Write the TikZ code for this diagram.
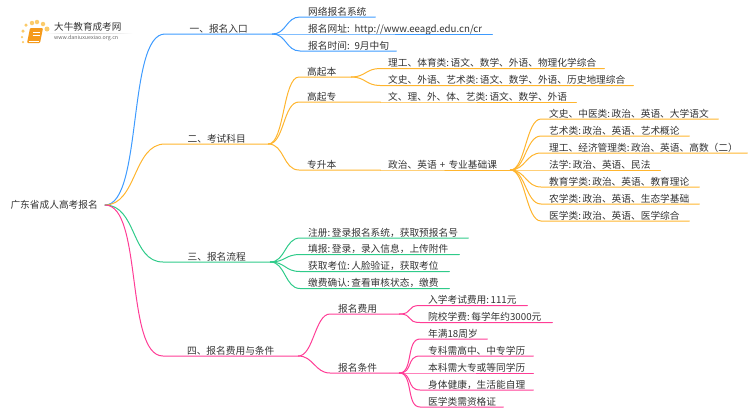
\documentclass[tikz,border=0pt]{standalone}
\usepackage{fontspec}
\setmainfont{Noto Sans CJK SC}
\usepackage{xcolor}
\usetikzlibrary{positioning}

\definecolor{inkgray}{HTML}{333333}
\definecolor{blueline}{HTML}{3E9BFF}
\definecolor{orangeline}{HTML}{FFB52E}
\definecolor{greenline}{HTML}{2FCB8A}
\definecolor{pinkline}{HTML}{FF3D96}
\definecolor{bookorange}{HTML}{F59A1B}
\definecolor{dotyellow}{HTML}{FBCB6A}

\tikzset{
    base/.style={font=\fontsize{9.7pt}{12pt}\selectfont, text=inkgray, anchor=south west,
        inner ysep=1.7pt, text height=8pt, text depth=0pt},
    topic/.style={base, minimum width=#1, inner xsep=0pt, align=center},
    leaf/.style={base, text width=#1, inner xsep=8pt, align=left,
        execute at begin node={\hbox\bgroup}, execute at end node={\egroup}},
    link/.style={line width=1pt, line cap=round},
    fan/.style={out=0, in=180, distance=#1},
    logodot/.style={circle, fill=dotyellow, inner sep=0pt, minimum size=#1}
}

\begin{document}
\begin{tikzpicture}[x=1pt, y=-1pt]
    \useasboundingbox (0,0) rectangle (750,410);

    \node (root) [font=\fontsize{9.7pt}{12pt}\selectfont, text=inkgray, anchor=east, inner xsep=7pt, inner ysep=2pt] at (105,205) {广东省成人高考报名};

    \node (t1) [topic=107] at (165,34) {一、报名入口};
    \node (t2) [topic=103] at (165,144) {二、考试科目};
    \node (t3) [topic=107] at (163,262) {三、报名流程};
    \node (t4) [topic=135] at (163,356) {四、报名费用与条件};

    \node (a1) [leaf=59] at (300,17) {网络报名系统};
    \node (a2) [leaf=176] at (300,34) {报名网址: http://www.eeagd.edu.cn/cr};
    \node (a3) [leaf=80] at (300,51) {报名时间: 9月中旬};

    \node (b1) [leaf=36] at (299,77) {高起本};
    \node (b2) [leaf=65] at (299,102) {高起专};
    \node (b3) [leaf=65] at (299,170) {专升本};

    \node (b11) [leaf=208] at (380,68.5) {理工、体育类:\,语文、数学、外语、物理化学综合};
    \node (b12) [leaf=237] at (380,85.5) {文史、外语、艺术类:\,语文、数学、外语、历史地理综合};
    \node (b21) [leaf=180] at (380,102) {文、理、外、体、艺类:\,语文、数学、外语};
    \node (b31) [leaf=114] at (380,170) {政治、英语 + 专业基础课};

    \node (c1) [leaf=161] at (541,119) {文史、中医类:\,政治、英语、大学语文};
    \node (c2) [leaf=132] at (541,136) {艺术类:\,政治、英语、艺术概论};
    \node (c3) [leaf=190] at (541,153) {理工、经济管理类:\,政治、英语、高数（二）};
    \node (c4) [leaf=103] at (541,170) {法学:\,政治、英语、民法};
    \node (c5) [leaf=142] at (541,187) {教育学类:\,政治、英语、教育理论};
    \node (c6) [leaf=142] at (541,204) {农学类:\,政治、英语、生态学基础};
    \node (c7) [leaf=132] at (541,221) {医学类:\,政治、英语、医学综合};

    \node (d1) [leaf=152] at (300,238) {注册:\,登录报名系统，获取预报名号};
    \node (d2) [leaf=143] at (300,254.5) {填报:\,登录，录入信息，上传附件};
    \node (d3) [leaf=133] at (300,271.5) {获取考位:\,人脸验证，获取考位};
    \node (d4) [leaf=133] at (300,288.5) {缴费确认:\,查看审核状态，缴费};

    \node (e1) [leaf=53] at (330,314) {报名费用};
    \node (e2) [leaf=53] at (330,373) {报名条件};

    \node (e11) [leaf=91] at (420,305.5) {入学考试费用:\,111元};
    \node (e12) [leaf=116] at (420,322.5) {院校学费:\,每学年约3000元};
    \node (e21) [leaf=51] at (420,339) {年满18周岁};
    \node (e22) [leaf=97] at (420,356) {专科需高中、中专学历};
    \node (e23) [leaf=97] at (420,373) {本科需大专或等同学历};
    \node (e24) [leaf=97] at (420,390) {身体健康，生活能自理};
    \node (e25) [leaf=67] at (420,407) {医学类需资格证};

    \draw [link, blueline] (root.east) to[fan=38] (t1.south west) -- (t1.south east);
    \draw [link, blueline] (t1.south east) to[fan=14] (a1.south west) -- (a1.south east);
    \draw [link, blueline] (t1.south east) -- (a2.south west) -- (a2.south east);
    \draw [link, blueline] (t1.south east) to[fan=14] (a3.south west) -- (a3.south east);

    \draw [link, orangeline] (root.east) to[fan=32] (t2.south west) -- (t2.south east);
    \draw [link, orangeline] (t2.south east) to[fan=16] (b1.south west) -- (b1.south east);
    \draw [link, orangeline] (t2.south east) to[fan=16] (b2.south west) -- (b2.south east);
    \draw [link, orangeline] (t2.south east) to[fan=16] (b3.south west) -- (b3.south east);
    \draw [link, orangeline] (b1.south east) to[fan=14] (b11.south west) -- (b11.south east);
    \draw [link, orangeline] (b1.south east) to[fan=14] (b12.south west) -- (b12.south east);
    \draw [link, orangeline] (b2.south east) -- (b21.south west) -- (b21.south east);
    \draw [link, orangeline] (b3.south east) -- (b31.south west) -- (b31.south east);

    \draw [link, orangeline] (b31.south east) to[fan=15] (c1.south west) -- (c1.south east);
    \draw [link, orangeline] (b31.south east) to[fan=15] (c2.south west) -- (c2.south east);
    \draw [link, orangeline] (b31.south east) to[fan=15] (c3.south west) -- (c3.south east);
    \draw [link, orangeline] (b31.south east) -- (c4.south west) -- (c4.south east);
    \draw [link, orangeline] (b31.south east) to[fan=15] (c5.south west) -- (c5.south east);
    \draw [link, orangeline] (b31.south east) to[fan=15] (c6.south west) -- (c6.south east);
    \draw [link, orangeline] (b31.south east) to[fan=15] (c7.south west) -- (c7.south east);

    \draw [link, greenline] (root.east) to[fan=32] (t3.south west) -- (t3.south east);
    \draw [link, greenline] (t3.south east) to[fan=15] (d1.south west) -- (d1.south east);
    \draw [link, greenline] (t3.south east) to[fan=15] (d2.south west) -- (d2.south east);
    \draw [link, greenline] (t3.south east) to[fan=15] (d3.south west) -- (d3.south east);
    \draw [link, greenline] (t3.south east) to[fan=15] (d4.south west) -- (d4.south east);

    \draw [link, pinkline] (root.east) to[fan=38] (t4.south west) -- (t4.south east);
    \draw [link, pinkline] (t4.south east) to[fan=15] (e1.south west) -- (e1.south east);
    \draw [link, pinkline] (t4.south east) to[fan=15] (e2.south west) -- (e2.south east);
    \draw [link, pinkline] (e1.south east) to[fan=14] (e11.south west) -- (e11.south east);
    \draw [link, pinkline] (e1.south east) to[fan=14] (e12.south west) -- (e12.south east);
    \draw [link, pinkline] (e2.south east) to[fan=14] (e21.south west) -- (e21.south east);
    \draw [link, pinkline] (e2.south east) to[fan=14] (e22.south west) -- (e22.south east);
    \draw [link, pinkline] (e2.south east) -- (e23.south west) -- (e23.south east);
    \draw [link, pinkline] (e2.south east) to[fan=14] (e24.south west) -- (e24.south east);
    \draw [link, pinkline] (e2.south east) to[fan=14] (e25.south west) -- (e25.south east);

    \node (dot1) [logodot=3.5pt] at (23,31) {};
    \node (dot2) [logodot=3.5pt] at (26,25) {};
    \node (dot3) [logodot=4.5pt] at (32,23) {};
    \node (dot4) [logodot=4.5pt] at (37,22) {};
    \node (dot5) [logodot=4.5pt] at (43,24) {};
    \node (dot6) [logodot=5pt] at (47,29) {};
    \node (dot7) [logodot=2.5pt] at (22,37) {};
    \node (dot8) [logodot=2.5pt] at (23,42) {};
    \fill [bookorange, rounded corners=1pt] (30,28) -- (43,28) -- (40,43) -- (27,43) -- cycle;
    \draw [white, line width=0.7pt] (33,32) -- (40,32) (32.5,35) -- (39.5,35);
    \draw [white, line width=0.5pt] (28.5,41) -- (39,41);
    \shade [left color=white, right color=white, middle color=black!22] (45,33) rectangle (133,33.6);
    \node (logoname) [font=\fontsize{9.6pt}{12pt}\selectfont, text=inkgray, anchor=west, inner sep=0pt] at (54,27) {大牛教育成考网};
    \node (logourl) [font=\fontsize{5.3pt}{6pt}\selectfont, text=black!60, anchor=west, inner sep=0pt] at (54,38.5) {www.daniuxuexiao.org.cn};
\end{tikzpicture}
\end{document}
